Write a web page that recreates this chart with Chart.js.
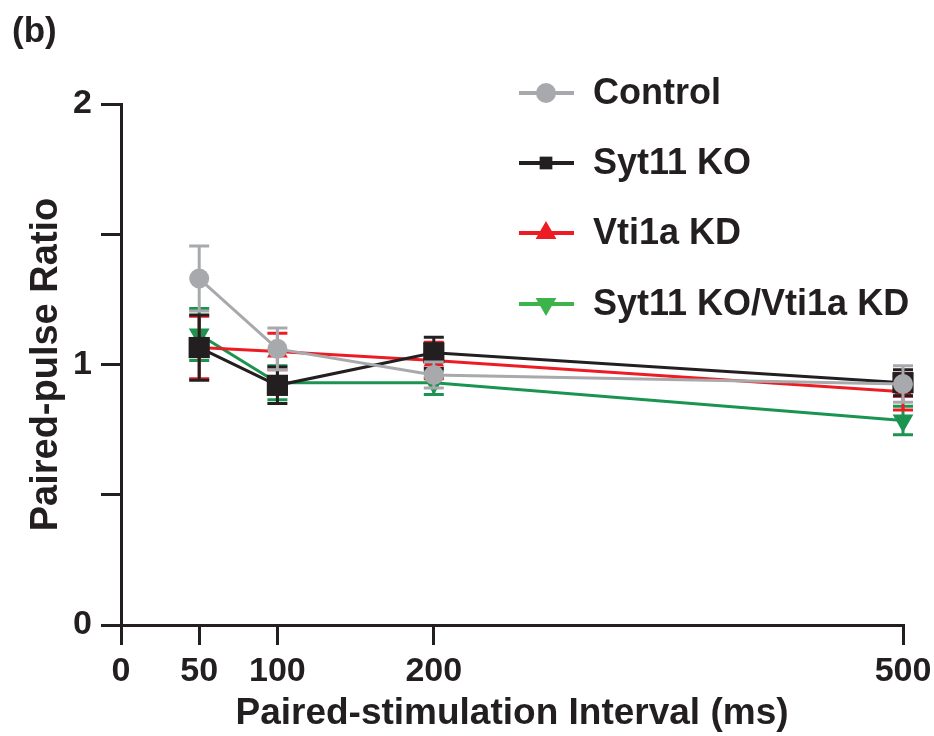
<!DOCTYPE html>
<html>
<head>
<meta charset="utf-8">
<script src="https://cdn.jsdelivr.net/npm/chart.js@4.4.1/dist/chart.umd.min.js"></script>
<style>
  html, body { margin: 0; padding: 0; background: #fff; }
  #wrap { width: 934px; height: 736px; }
</style>
</head>
<body>
<div id="wrap"><canvas id="ppr" width="934" height="736"></canvas></div>
<script>
// x = paired-stimulation interval (ms), y = paired-pulse ratio, +/- SEM
const intervals = [50, 100, 200, 500];
const xTicks = [0, 50, 100, 200, 500];
const yTicks = [0, 0.5, 1, 1.5, 2];
const yLabelled = [0, 1, 2];
const seriesNames = ['Control', 'Syt11 KO', 'Vti1a KD', 'Syt11 KO/Vti1a KD'];

const control    = [1.33, 1.06, 0.96, 0.925];
const controlSem = [0.125, 0.08, 0.05, 0.07];
const syt11      = [1.065, 0.92, 1.045, 0.93];
const syt11Sem   = [0.125, 0.07, 0.06, 0.05];
const vti1a      = [1.065, 1.05, 1.015, 0.895];
const vti1aSem   = [0.12, 0.07, 0.07, 0.07];
const double     = [1.115, 0.93, 0.93, 0.785];
const doubleSem  = [0.1, 0.065, 0.045, 0.055];

const INK = '#231f20';
const FONT = "'Liberation Sans', Arial, Helvetica, sans-serif";
Chart.defaults.font.family = FONT;
Chart.defaults.color = INK;

function pts(ys) {
  return intervals.map((x, i) => ({ x: x, y: ys[i] }));
}

function makeSet(label, ys, sem, color, legendColor, style, radius, rotation) {
  return {
    label: label,
    data: pts(ys),
    sem: sem,
    legendColor: legendColor,
    borderColor: color,
    backgroundColor: color,
    borderWidth: 3,
    pointStyle: style,
    pointRadius: radius,
    pointRotation: rotation,
    pointBorderWidth: 0,
    pointBackgroundColor: color,
    tension: 0,
    clip: false
  };
}

// error bars drawn under each series' own line and markers
const errorBars = {
  id: 'errorBars',
  beforeDatasetDraw(chart, args) {
    const ds = chart.data.datasets[args.index];
    const xs = chart.scales.x, ys = chart.scales.y;
    const ctx = chart.ctx;
    ctx.save();
    ctx.strokeStyle = ds.borderColor;
    ctx.lineWidth = 3;
    ds.data.forEach((p, i) => {
      const px = xs.getPixelForValue(p.x);
      const top = ys.getPixelForValue(p.y + ds.sem[i]);
      const bot = ys.getPixelForValue(p.y - ds.sem[i]);
      ctx.beginPath();
      ctx.moveTo(px, top); ctx.lineTo(px, bot);
      ctx.moveTo(px - 10, top); ctx.lineTo(px + 10, top);
      ctx.moveTo(px - 10, bot); ctx.lineTo(px + 10, bot);
      ctx.stroke();
    });
    ctx.restore();
  }
};

// panel letter and legend block in the upper right of the plot
const panelLegend = {
  id: 'panelLegend',
  afterDraw(chart) {
    const ctx = chart.ctx;
    ctx.save();
    ctx.fillStyle = INK;
    ctx.font = 'bold 35px ' + FONT;
    ctx.textBaseline = 'alphabetic';
    ctx.textAlign = 'left';
    ctx.fillText('(b)', 12, 42);

    const rows = [93, 163, 233, 304];
    chart.data.datasets.forEach((ds, i) => {
      const y = rows[i];
      const c = ds.legendColor;
      ctx.strokeStyle = c;
      ctx.fillStyle = c;
      ctx.lineWidth = 4;
      ctx.beginPath();
      ctx.moveTo(519, y); ctx.lineTo(574, y);
      ctx.stroke();
      const r = ds.pointStyle === 'rect' ? 9 : (ds.pointStyle === 'triangle' ? 12 : 10);
      Chart.helpers.drawPoint(ctx, {
        pointStyle: ds.pointStyle, radius: r, rotation: ds.pointRotation, borderWidth: 0
      }, 546, y);
      ctx.fillStyle = INK;
      ctx.font = 'bold 36px ' + FONT;
      ctx.fillText(ds.label, 593, y + 11);
    });
    ctx.restore();
  }
};

new Chart(document.getElementById('ppr'), {
  type: 'line',
  data: {
    datasets: [
      makeSet(seriesNames[0], control, controlSem, '#a7a9ac', '#a7a9ac', 'circle', 10, 0),
      makeSet(seriesNames[1], syt11, syt11Sem, INK, INK, 'rect', 15, 0),
      makeSet(seriesNames[2], vti1a, vti1aSem, '#ed1c24', '#ed1c24', 'triangle', 12, 0),
      makeSet(seriesNames[3], double, doubleSem, '#1b9450', '#3cb44b', 'triangle', 12, 180)
    ]
  },
  plugins: [errorBars, panelLegend],
  options: {
    responsive: false,
    animation: false,
    events: [],
    layout: { padding: { top: 104, right: 31, bottom: 0, left: 0 } },
    plugins: { legend: { display: false }, tooltip: { enabled: false } },
    scales: {
      x: {
        type: 'linear',
        min: 0,
        max: 500,
        afterBuildTicks: (s) => { s.ticks = xTicks.map(v => ({ value: v })); },
        afterFit: (s) => { s.height = 111; s.paddingRight = 0; s.paddingLeft = 0; },
        border: { display: true, width: 3, color: INK },
        grid: { drawOnChartArea: false, drawTicks: true, tickLength: 20, lineWidth: 3, color: INK },
        ticks: { font: { size: 34, weight: 'bold' }, padding: 6, maxRotation: 0, autoSkip: false, color: INK },
        title: { display: true, text: 'Paired-stimulation Interval (ms)', font: { size: 37, weight: 'bold' }, padding: { top: 0, bottom: 0 }, color: INK }
      },
      y: {
        type: 'linear',
        min: 0,
        max: 2,
        afterBuildTicks: (s) => { s.ticks = yTicks.map(v => ({ value: v })); },
        afterFit: (s) => { s.width = 121; },
        border: { display: true, width: 3, color: INK },
        grid: { drawOnChartArea: false, drawTicks: true, tickLength: 20, lineWidth: 3, color: INK },
        ticks: {
          font: { size: 34, weight: 'bold' }, padding: 9, autoSkip: false, color: INK,
          callback: (v) => yLabelled.includes(v) ? String(v) : ''
        },
        title: { display: true, text: 'Paired-pulse Ratio', font: { size: 38, weight: 'bold' }, padding: { top: 24, bottom: 0 }, color: INK }
      }
    }
  }
});
</script>
</body>
</html>
